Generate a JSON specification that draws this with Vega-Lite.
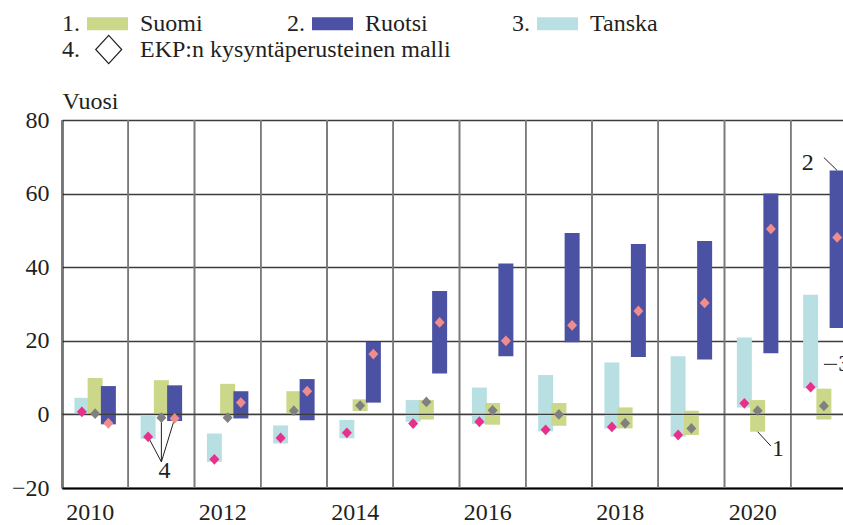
{
  "$schema": "https://vega.github.io/schema/vega-lite/v6.json",
  "width": 781,
  "height": 368,
  "autosize": {"type": "none"},
  "padding": {"left": 62, "top": 120, "right": 0, "bottom": 37},
  "config": {
    "view": {"stroke": null},
    "font": "Liberation Serif",
    "axis": {"labelFont": "Liberation Serif", "labelFontSize": 24, "labelColor": "#231f20", "titleFont": "Liberation Serif", "titleFontSize": 24, "titleFontWeight": "normal", "titleColor": "#231f20"},
    "legend": {"labelFont": "Liberation Serif", "labelFontSize": 24, "labelColor": "#231f20", "labelLimit": 600, "padding": 0}
  },
  "datasets": {
    "bars": [
      {"year": 2010, "series": "Tanska", "lo": -0.4, "hi": 4.5, "ekp": 0.7},
      {"year": 2010, "series": "Suomi", "lo": -0.3, "hi": 9.9, "ekp": 0.2},
      {"year": 2010, "series": "Ruotsi", "lo": -2.7, "hi": 7.7, "ekp": -2.4},
      {"year": 2011, "series": "Tanska", "lo": -6.7, "hi": 0.0, "ekp": -6.1},
      {"year": 2011, "series": "Suomi", "lo": -0.2, "hi": 9.3, "ekp": -0.9},
      {"year": 2011, "series": "Ruotsi", "lo": -1.8, "hi": 7.9, "ekp": -1.1},
      {"year": 2012, "series": "Tanska", "lo": -12.9, "hi": -5.2, "ekp": -12.2},
      {"year": 2012, "series": "Suomi", "lo": -0.5, "hi": 8.3, "ekp": -0.9},
      {"year": 2012, "series": "Ruotsi", "lo": -1.1, "hi": 6.3, "ekp": 3.2},
      {"year": 2013, "series": "Tanska", "lo": -7.9, "hi": -3.0, "ekp": -6.4},
      {"year": 2013, "series": "Suomi", "lo": 0.3, "hi": 6.3, "ekp": 1.0},
      {"year": 2013, "series": "Ruotsi", "lo": -1.6, "hi": 9.6, "ekp": 6.3},
      {"year": 2014, "series": "Tanska", "lo": -6.5, "hi": -1.5, "ekp": -5.0},
      {"year": 2014, "series": "Suomi", "lo": 0.9, "hi": 4.1, "ekp": 2.4},
      {"year": 2014, "series": "Ruotsi", "lo": 3.2, "hi": 19.7, "ekp": 16.4},
      {"year": 2015, "series": "Tanska", "lo": -2.0, "hi": 3.9, "ekp": -2.5},
      {"year": 2015, "series": "Suomi", "lo": -1.4, "hi": 3.9, "ekp": 3.4},
      {"year": 2015, "series": "Ruotsi", "lo": 11.1, "hi": 33.5, "ekp": 25.0},
      {"year": 2016, "series": "Tanska", "lo": -2.6, "hi": 7.3, "ekp": -2.0},
      {"year": 2016, "series": "Suomi", "lo": -2.8, "hi": 3.1, "ekp": 1.1},
      {"year": 2016, "series": "Ruotsi", "lo": 15.8, "hi": 41.0, "ekp": 20.0},
      {"year": 2017, "series": "Tanska", "lo": -4.6, "hi": 10.7, "ekp": -4.2},
      {"year": 2017, "series": "Suomi", "lo": -3.1, "hi": 3.1, "ekp": 0.0},
      {"year": 2017, "series": "Ruotsi", "lo": 19.6, "hi": 49.3, "ekp": 24.2},
      {"year": 2018, "series": "Tanska", "lo": -3.8, "hi": 14.1, "ekp": -3.4},
      {"year": 2018, "series": "Suomi", "lo": -3.8, "hi": 1.9, "ekp": -2.4},
      {"year": 2018, "series": "Ruotsi", "lo": 15.6, "hi": 46.3, "ekp": 28.1},
      {"year": 2019, "series": "Tanska", "lo": -6.1, "hi": 15.8, "ekp": -5.6},
      {"year": 2019, "series": "Suomi", "lo": -5.6, "hi": 1.0, "ekp": -3.8},
      {"year": 2019, "series": "Ruotsi", "lo": 14.9, "hi": 47.1, "ekp": 30.3},
      {"year": 2020, "series": "Tanska", "lo": 1.9, "hi": 20.9, "ekp": 3.0},
      {"year": 2020, "series": "Suomi", "lo": -4.7, "hi": 3.9, "ekp": 1.0},
      {"year": 2020, "series": "Ruotsi", "lo": 16.6, "hi": 60.0, "ekp": 50.4},
      {"year": 2021, "series": "Tanska", "lo": 7.1, "hi": 32.5, "ekp": 7.4},
      {"year": 2021, "series": "Suomi", "lo": -1.4, "hi": 7.0, "ekp": 2.3},
      {"year": 2021, "series": "Ruotsi", "lo": 23.5, "hi": 66.3, "ekp": 48.1}
    ],
    "leaders": [
      {"lead": "4a", "year": 2011, "series": "Tanska", "v": -6.1},
      {"lead": "4a", "year": 2011, "series": "Suomi", "v": -12.9},
      {"lead": "4b", "year": 2011, "series": "Suomi", "v": -0.9},
      {"lead": "4b", "year": 2011, "series": "Suomi", "v": -12.9},
      {"lead": "4c", "year": 2011, "series": "Ruotsi", "v": -1.1},
      {"lead": "4c", "year": 2011, "series": "Suomi", "v": -12.9},
      {"lead": "1", "year": 2020, "series": "Suomi", "v": -4.7},
      {"lead": "1", "year": 2020, "series": "Ruotsi", "v": -8.6},
      {"lead": "2", "year": 2021, "series": "Ruotsi", "v": 66.3},
      {"lead": "2", "year": 2021, "series": "Suomi", "v": 69.8},
      {"lead": "3", "year": 2021, "series": "Suomi", "v": 13.6},
      {"lead": "3", "year": 2021, "series": "Ruotsi", "v": 13.6}
    ],
    "labelsLeft": [
      {"t": "1", "year": 2020, "series": "Ruotsi", "v": -9.3},
      {"t": "3", "year": 2021, "series": "Ruotsi", "v": 13.6}
    ],
    "labelsRight": [
      {"t": "2", "year": 2021, "series": "Tanska", "v": 68.3}
    ],
    "labelsCenter": [
      {"t": "4", "year": 2011, "series": "Suomi", "v": -15.5}
    ]
  },
  "layer": [
    {
      "data": {"name": "bars"},
      "mark": {"type": "bar", "width": 15},
      "encoding": {
        "x": {"field": "year", "type": "ordinal", "title": null,
              "scale": {"type": "band", "paddingInner": 0, "paddingOuter": 0, "range": [0, 795]},
              "axis": {"title": null, "labelExpr": "datum.value % 2 === 0 ? datum.label : ''", "ticks": false, "grid": false, "labelAngle": 0, "labelOffset": -5, "labelPadding": 12, "labelBaseline": "top", "domainColor": "#000000", "domainWidth": 2, "bandPosition": 0.5}},
        "xOffset": {"field": "series", "type": "nominal",
                    "scale": {"type": "band", "domain": ["Tanska", "Suomi", "Ruotsi"], "paddingInner": 0, "paddingOuter": 1.51}},
        "y": {"field": "lo", "type": "quantitative", "title": "Vuosi",
              "scale": {"domain": [-20, 80], "nice": false, "zero": false},
              "axis": {"title": "Vuosi", "titleAngle": 0, "titleAlign": "left", "titleX": 0, "titleY": -12, "titleBaseline": "alphabetic",
                       "values": [-20, 0, 20, 40, 60, 80], "ticks": false, "labelPadding": 13, "grid": true, "gridColor": "#3c3c3c", "gridWidth": 1.4, "domainColor": "#000000", "domainWidth": 2}},
        "y2": {"field": "hi"},
        "fill": {"field": "series", "type": "nominal",
                 "scale": {"domain": ["Suomi", "Ruotsi", "Tanska"], "range": ["#cbd88a", "#4b52a3", "#b8e0e3"]},
                 "legend": {"title": null, "orient": "none", "legendX": 0, "legendY": -117, "direction": "horizontal", "columns": 3, "columnPadding": 84,
                            "symbolType": "M-1,-0.32H1V0.32H-1Z", "symbolSize": 1681, "symbolStrokeWidth": 0, "symbolOpacity": 1, "symbolOffset": 25, "labelOffset": -66, "labelBaseline": "middle",
                            "labelExpr": "(datum.label === 'Suomi' ? '1.' : datum.label === 'Ruotsi' ? '2.' : '3.') + '\u00a0\u00a0\u00a0\u00a0\u00a0\u00a0\u00a0\u00a0\u00a0\u00a0' + datum.label + (datum.label === 'Ruotsi' ? '\u00a0\u00a0' : '')"}}
      }
    },
    {
      "data": {"name": "bars"},
      "mark": {"type": "rule", "color": "#7a7a7a", "strokeWidth": 1.4},
      "encoding": {
        "x": {"field": "year", "type": "ordinal", "bandPosition": 0}
      }
    },
    {
      "data": {"values": [{}]},
      "mark": {"type": "rule", "color": "#3c3c3c", "strokeWidth": 1.4},
      "encoding": {"y": {"datum": 0, "title": "Vuosi"}}
    },
    {
      "data": {"name": "leaders"},
      "mark": {"type": "line", "color": "#231f20", "strokeWidth": 1},
      "encoding": {
        "x": {"field": "year", "type": "ordinal"},
        "xOffset": {"field": "series", "type": "nominal"},
        "y": {"field": "v", "type": "quantitative", "title": "Vuosi"},
        "detail": {"field": "lead", "type": "nominal"}
      }
    },
    {
      "data": {"name": "bars"},
      "mark": {"type": "point", "filled": true, "size": 100, "opacity": 1},
      "encoding": {
        "x": {"field": "year", "type": "ordinal"},
        "xOffset": {"field": "series", "type": "nominal"},
        "y": {"field": "ekp", "type": "quantitative", "title": "Vuosi"},
        "color": {"field": "series", "type": "nominal",
                  "scale": {"domain": ["Tanska", "Suomi", "Ruotsi"], "range": ["#e8308a", "#808080", "#f08c8c"]}, "legend": null},
        "shape": {"datum": "EKP:n kysyntäperusteinen malli",
                  "scale": {"range": ["M0,-1.08L1,0L0,1.08L-1,0Z"]},
                  "legend": {"title": null, "orient": "none", "legendX": 0, "legendY": -84.5, "symbolSize": 676, "symbolStrokeWidth": 1.2, "symbolOffset": 32.7, "labelOffset": -60.7, "labelBaseline": "middle",
                             "symbolFillColor": "#ffffff", "symbolStrokeColor": "#231f20",
                             "labelExpr": "'4.' + '\u00a0\u00a0\u00a0\u00a0\u00a0\u00a0\u00a0\u00a0\u00a0\u00a0' + datum.label",
                             "encode": {"symbols": {"update": {"shape": {"value": "M0,-0.74L1,0L0,0.74L-1,0Z"}, "fill": {"value": "#ffffff"}, "stroke": {"value": "#231f20"}, "strokeWidth": {"value": 1.2}, "opacity": {"value": 1}}}}}}
      }
    },
    {
      "data": {"name": "labelsLeft"},
      "mark": {"type": "text", "align": "left", "baseline": "middle", "dx": 1, "fontSize": 24, "font": "Liberation Serif", "color": "#231f20"},
      "encoding": {
        "x": {"field": "year", "type": "ordinal"},
        "xOffset": {"field": "series", "type": "nominal"},
        "y": {"field": "v", "type": "quantitative", "title": "Vuosi"},
        "text": {"field": "t"}
      }
    },
    {
      "data": {"name": "labelsRight"},
      "mark": {"type": "text", "align": "right", "baseline": "middle", "dx": 3, "fontSize": 24, "font": "Liberation Serif", "color": "#231f20"},
      "encoding": {
        "x": {"field": "year", "type": "ordinal"},
        "xOffset": {"field": "series", "type": "nominal"},
        "y": {"field": "v", "type": "quantitative", "title": "Vuosi"},
        "text": {"field": "t"}
      }
    },
    {
      "data": {"name": "labelsCenter"},
      "mark": {"type": "text", "align": "center", "baseline": "middle", "dx": 3, "fontSize": 24, "font": "Liberation Serif", "color": "#231f20"},
      "encoding": {
        "x": {"field": "year", "type": "ordinal"},
        "xOffset": {"field": "series", "type": "nominal"},
        "y": {"field": "v", "type": "quantitative", "title": "Vuosi"},
        "text": {"field": "t"}
      }
    }
  ]
}
